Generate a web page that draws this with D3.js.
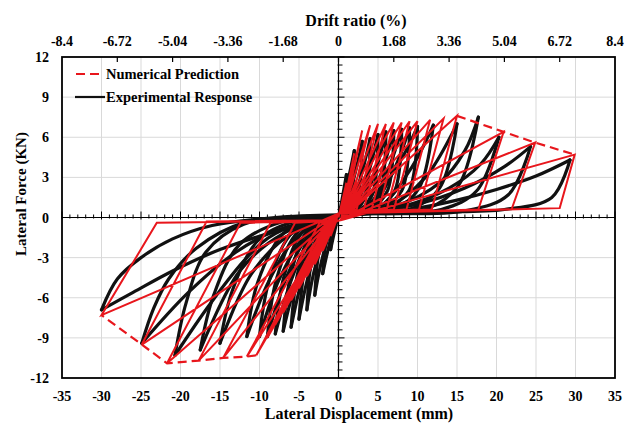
<!DOCTYPE html>
<html><head><meta charset="utf-8">
<script src="https://cdn.jsdelivr.net/npm/d3@7"></script>
<style>
body{margin:0;background:#fff}
svg{display:block}
text{font-family:"Liberation Serif","Times New Roman",serif;font-weight:bold;fill:#000}
</style>
</head><body>
<svg id="chart" width="626" height="423"></svg>
<script>
// ---------- tick labels ----------
const dispTicks = [-35,-30,-25,-20,-15,-10,-5,0,5,10,15,20,25,30,35];
const forceTicks = [-12,-9,-6,-3,0,3,6,9,12];
const driftTicks = [-8.4,-6.72,-5.04,-3.36,-1.68,0,1.68,3.36,5.04,6.72,8.4];
const driftLabels = ["-8.4","-6.72","-5.04","-3.36","-1.68","0","1.68","3.36","5.04","6.72","8.4"];

// ---------- Numerical prediction (red), cycle vertices ----------
const numPosPeakD = [1,2,3,4,5,6,7,8,9,10,11.6,13.3,15,20.9,24.9,29.9];
const numPosPeakF = [2.6,4.8,6.5,6.9,7.0,7.0,7.1,7.1,7.2,7.2,7.3,7.4,7.6,6.4,5.6,4.7];
const numPosResD  = [0.3,0.5,0.8,1.4,2.3,3.2,4.2,5.1,6.1,7.0,8.6,10.2,11.8,17.7,21.9,28.0];
const numPosResF  = [0.4,0.5,0.5,0.6,0.6,0.6,0.6,0.6,0.6,0.6,0.6,0.6,0.6,0.6,0.6,0.7];
const numNegPeakD = [-1,-2,-3,-4,-5,-6,-7,-8,-9,-10.4,-11.6,-14.6,-17.7,-21.7,-24.9,-30];
const numNegPeakF = [-1.4,-2.5,-3.5,-4.4,-5.3,-6.2,-7.1,-8.0,-9.0,-10.3,-10.4,-10.5,-10.7,-10.9,-9.5,-7.3];
const numNegResD  = [-0.3,-0.4,-0.5,-0.6,-0.7,-0.8,-1.0,-1.1,-1.3,-1.6,-2.4,-5.5,-8.6,-12.4,-16.7,-23.0];
const numNegResF  = [-0.3,-0.3,-0.3,-0.3,-0.3,-0.3,-0.4,-0.4,-0.4,-0.4,-0.4,-0.4,-0.4,-0.4,-0.3,-0.4];
const numPinchUp   = [0.3,-0.2];
const numPinchDown = [0.0,0.3];

// ---------- Experimental response (black), branch points ----------
const expPosLoad = [
 [[0,0],[0.4,1.2],[1.0,3.2]],
 [[0,0.1],[0.6,1.2],[1.3,3.0],[2.0,5.0]],
 [[0,0.1],[1.0,1.1],[2.1,3.3],[3.0,5.7]],
 [[0,0.1],[1.5,0.9],[2.8,3.0],[4.0,5.9]],
 [[0,0.1],[2.0,0.8],[3.6,3.0],[5.0,6.2]],
 [[0,0.1],[2.5,0.7],[4.4,3.0],[6.0,6.4]],
 [[0,0.1],[3.0,0.6],[5.2,3.0],[7.0,6.5]],
 [[0,0.1],[3.4,0.6],[6.0,3.2],[8.0,6.6]],
 [[0,0.1],[3.8,0.6],[6.8,3.3],[9.0,6.7]],
 [[0,0.1],[3.1,0.6],[7.4,3.8],[10.0,6.8]],
 [[0,0.1],[5.0,0.7],[9.0,3.5],[12.0,6.9]],
 [[0,0.1],[6.0,0.7],[11.0,3.0],[15.0,7.0]],
 [[0,0.1],[7.0,0.8],[12.8,2.6],[16.0,5.0],[17.7,7.5]],
 [[0,0.2],[8.0,0.8],[14.0,2.2],[18.0,4.0],[20.3,6.0]],
 [[0,0.2],[10.0,1.0],[16.0,2.2],[21.0,3.8],[24.3,5.3]],
 [[0,0.2],[10.0,0.7],[15.0,1.3],[20.0,2.1],[25.0,3.1],[29.3,4.3]]
];
const expPosUnload = [
 [[1.0,3.2],[0.8,1.2],[0.4,0.3],[0,0.1]],
 [[2.0,5.0],[1.7,1.8],[1.0,0.5],[0,0.15]],
 [[3.0,5.7],[2.6,2.1],[1.6,0.6],[0,0.15]],
 [[4.0,5.9],[3.5,2.0],[2.2,0.6],[0,0.15]],
 [[5.0,6.2],[4.4,2.0],[2.8,0.6],[0,0.15]],
 [[6.0,6.4],[5.3,2.0],[3.4,0.6],[0,0.15]],
 [[7.0,6.5],[6.2,2.0],[4.0,0.6],[0,0.15]],
 [[8.0,6.6],[7.1,2.0],[4.6,0.6],[0,0.15]],
 [[9.0,6.7],[8.0,2.0],[5.2,0.6],[0,0.15]],
 [[10.0,6.8],[8.9,2.0],[5.8,0.6],[0,0.15]],
 [[12.0,6.9],[10.2,2.2],[7.0,0.6],[0,0.15]],
 [[15.0,7.0],[12.8,2.2],[9.0,0.6],[0,0.15]],
 [[17.7,7.5],[15.2,2.4],[11.0,0.6],[0,0.15]],
 [[20.3,6.0],[17.5,2.0],[13.0,0.6],[0,0.15]],
 [[24.3,5.3],[21.5,1.7],[16.0,0.5],[0,0.15]],
 [[29.3,4.3],[27.0,1.5],[21.0,0.6],[12.0,0.4],[0,0.15]]
];
const expNegLoad = [
 [[0,0.1],[-0.4,-0.8],[-1.0,-2.4]],
 [[0,0.1],[-0.8,-1.2],[-1.4,-2.6],[-2.0,-4.2]],
 [[0,0.1],[-1.2,-1.3],[-2.2,-3.4],[-3.0,-5.8]],
 [[0,0.1],[-1.6,-1.3],[-3.0,-3.8],[-4.0,-6.9]],
 [[0,0.1],[-2.0,-1.3],[-3.7,-4.1],[-5.0,-7.6]],
 [[0,0.1],[-2.4,-1.2],[-4.4,-4.2],[-6.0,-8.2]],
 [[0,0.1],[-2.8,-1.2],[-5.1,-4.3],[-7.0,-8.5]],
 [[0,0.1],[-3.2,-1.2],[-5.8,-4.4],[-8.0,-8.7]],
 [[0,0.1],[-3.6,-1.2],[-6.6,-4.5],[-9.0,-8.9]],
 [[0,0.1],[-4.0,-1.2],[-7.4,-4.5],[-10.0,-8.9]],
 [[0,0.1],[-5.0,-1.3],[-8.6,-4.5],[-11.6,-8.9]],
 [[0,0.1],[-6.0,-1.2],[-11.0,-4.2],[-15.0,-9.4]],
 [[0,0.1],[-7.0,-1.2],[-12.5,-4.0],[-17.5,-9.9]],
 [[0,0.1],[-8.0,-1.2],[-11.6,-3.0],[-16.3,-6.5],[-20.7,-10.3]],
 [[0,0.1],[-8.0,-1.0],[-13.0,-2.6],[-19.0,-5.6],[-24.9,-9.4]],
 [[0,0.1],[-6.0,-0.7],[-15.0,-2.4],[-21.0,-4.0],[-26.0,-5.6],[-30.0,-6.9]]
];
const expNegUnload = [
 [[-1.0,-2.4],[-0.7,-1.0],[-0.3,-0.2],[0,0.1]],
 [[-2.0,-4.2],[-1.6,-1.9],[-0.9,-0.4],[0,0.1]],
 [[-3.0,-5.8],[-2.5,-2.7],[-1.5,-0.6],[0,0.1]],
 [[-4.0,-6.9],[-3.4,-3.2],[-2.0,-0.7],[0,0.1]],
 [[-5.0,-7.6],[-4.2,-3.6],[-2.6,-0.8],[0,0.1]],
 [[-6.0,-8.2],[-5.1,-4.0],[-3.2,-0.9],[0,0.1]],
 [[-7.0,-8.5],[-6.0,-4.2],[-3.8,-0.9],[0,0.1]],
 [[-8.0,-8.7],[-6.9,-4.4],[-4.4,-1.0],[0,0.1]],
 [[-9.0,-8.9],[-7.8,-4.5],[-5.0,-1.0],[0,0.1]],
 [[-10.0,-8.9],[-8.7,-4.6],[-5.6,-1.0],[0,0.1]],
 [[-11.6,-8.9],[-10.2,-4.8],[-7.0,-1.2],[-3.0,-0.1],[0,0.1]],
 [[-15.0,-9.4],[-13.4,-5.4],[-10.0,-1.6],[-5.0,-0.2],[0,0.1]],
 [[-17.5,-9.9],[-15.8,-5.8],[-12.5,-2.0],[-7.0,-0.3],[0,0.1]],
 [[-20.7,-10.3],[-19.3,-6.4],[-16.8,-2.6],[-12.0,-0.5],[-5.0,0.0],[0,0.1]],
 [[-24.9,-9.4],[-23.4,-6.8],[-21.5,-4.6],[-18.0,-2.3],[-12.0,-0.4],[0,0.1]],
 [[-30.0,-6.9],[-28.0,-4.6],[-25.0,-3.0],[-21.0,-1.6],[-16.0,-0.6],[-8.0,0.0],[0,0.2]]
];

// ---------- layout ----------
const L = 62, R = 615, T = 57, B = 378;
const svg = d3.select("#chart");
const x = d3.scaleLinear().domain([-35,35]).range([L,R]);
const xTop = d3.scaleLinear().domain([-8.4,8.4]).range([L,R]);
const y = d3.scaleLinear().domain([-12,12]).range([B,T]);

// grid
const grid = svg.append("g").attr("stroke","#d9d9d9").attr("stroke-width",1);
grid.selectAll("line.gx").data(dispTicks.slice(1,-1)).join("line")
  .attr("x1",d=>x(d)).attr("x2",d=>x(d)).attr("y1",T).attr("y2",B);
grid.selectAll("line.gy").data(forceTicks.slice(1,-1)).join("line")
  .attr("x1",L).attr("x2",R).attr("y1",d=>y(d)).attr("y2",d=>y(d));

// zero axes with minor ticks
const zx = svg.append("g").attr("stroke","#000");
zx.append("line").attr("x1",L).attr("x2",R).attr("y1",y(0)).attr("y2",y(0)).attr("stroke-width",1.2);
zx.append("line").attr("x1",x(0)).attr("x2",x(0)).attr("y1",T).attr("y2",B).attr("stroke-width",1.2);
const minorX = x.ticks(70);
zx.selectAll("line.mx").data(minorX).join("line")
  .attr("x1",d=>x(d)).attr("x2",d=>x(d))
  .attr("y1",d=>y(0)-(d%5===0?6:3)).attr("y2",d=>y(0)+(d%5===0?2:1)).attr("stroke-width",1);
const minorY = d3.range(-12,12.001,0.6);
zx.selectAll("line.my").data(minorY).join("line")
  .attr("y1",d=>y(d)).attr("y2",d=>y(d))
  .attr("x1",x(0)-1).attr("x2",d=>x(0)+(Math.abs(Math.round(d*10))%30===0?6:4)).attr("stroke-width",1);

// data clip
svg.append("clipPath").attr("id","clip").append("rect").attr("x",L).attr("y",T).attr("width",R-L).attr("height",B-T);
const plot = svg.append("g").attr("clip-path","url(#clip)");

// experimental (black) branches
const curve = d3.line().x(d=>x(d[0])).y(d=>y(d[1])).curve(d3.curveCatmullRom.alpha(0.5));
const expBranches = [];
expBranches.push(expPosLoad[0]);
for (let i=0;i<expPosUnload.length;i++){
  expBranches.push(expPosUnload[i].concat(expNegLoad[i].slice(1)));
  if (i+1<expPosLoad.length) expBranches.push(expNegUnload[i].concat(expPosLoad[i+1].slice(1)));
  else expBranches.push(expNegUnload[i]);
}
plot.append("g").selectAll("path").data(expBranches).join("path")
  .attr("d",curve).attr("fill","none").attr("stroke","#111").attr("stroke-width",3.2)
  .attr("stroke-linejoin","round").attr("stroke-linecap","round");

// numerical (red) path
const numPts = [[0,0]];
for (let i=0;i<numPosPeakD.length;i++){
  numPts.push([numPosPeakD[i],numPosPeakF[i]]);
  numPts.push([numPosResD[i],numPosResF[i]]);
  numPts.push(numPinchDown);
  numPts.push([numNegPeakD[i],numNegPeakF[i]]);
  numPts.push([numNegResD[i],numNegResF[i]]);
  numPts.push(numPinchUp);
}
const lin = d3.line().x(d=>x(d[0])).y(d=>y(d[1]));
const red = "#e8161c";
plot.append("path").attr("d",lin(numPts)).attr("fill","none").attr("stroke",red)
  .attr("stroke-width",2).attr("stroke-linejoin","miter");
const posEnv = numPosPeakD.map((d,i)=>[d,numPosPeakF[i]]).filter(p=>p[0]>=15);
const negEnv = numNegPeakD.map((d,i)=>[d,numNegPeakF[i]]).filter(p=>p[0]<=-10.4);
[posEnv,negEnv].forEach(e=>plot.append("path").attr("d",lin(e)).attr("fill","none")
  .attr("stroke",red).attr("stroke-width",2.2).attr("stroke-dasharray","9,5"));

// frame
svg.append("rect").attr("x",L).attr("y",T).attr("width",R-L).attr("height",B-T)
  .attr("fill","none").attr("stroke","#000").attr("stroke-width",1.8);

// top drift ticks
svg.append("g").selectAll("line").data(driftTicks.slice(1,-1)).join("line")
  .attr("x1",d=>xTop(d)).attr("x2",d=>xTop(d)).attr("y1",T).attr("y2",T+5)
  .attr("stroke","#000").attr("stroke-width",1.2);

// tick labels
svg.append("g").selectAll("text").data(dispTicks).join("text")
  .attr("x",d=>x(d)).attr("y",401).attr("text-anchor","middle").attr("font-size",14)
  .text(d=>d);
svg.append("g").selectAll("text").data(forceTicks).join("text")
  .attr("x",49).attr("y",d=>y(d)+5).attr("text-anchor","end").attr("font-size",14)
  .text(d=>d);
svg.append("g").selectAll("text").data(driftTicks).join("text")
  .attr("x",d=>xTop(d)).attr("y",46).attr("text-anchor","middle").attr("font-size",14)
  .text((d,i)=>driftLabels[i]);

// axis titles
svg.append("text").attr("x",356).attr("y",26).attr("text-anchor","middle").attr("font-size",16).text("Drift ratio (%)");
svg.append("text").attr("x",359).attr("y",419).attr("text-anchor","middle").attr("font-size",16).text("Lateral Displacement (mm)");
svg.append("text").attr("transform","translate(26,194) rotate(-90)").attr("text-anchor","middle").attr("font-size",15).text("Lateral Force (KN)");

// legend
const lg = svg.append("g");
lg.append("line").attr("x1",76).attr("x2",104).attr("y1",74).attr("y2",74).attr("stroke",red).attr("stroke-width",2.2).attr("stroke-dasharray","9,5");
lg.append("text").attr("x",106).attr("y",79).attr("font-size",14.5).text("Numerical Prediction");
lg.append("line").attr("x1",75).attr("x2",105).attr("y1",97).attr("y2",97).attr("stroke","#111").attr("stroke-width",2.2);
lg.append("text").attr("x",106).attr("y",102).attr("font-size",14.5).text("Experimental Response");
</script>
</body></html>
